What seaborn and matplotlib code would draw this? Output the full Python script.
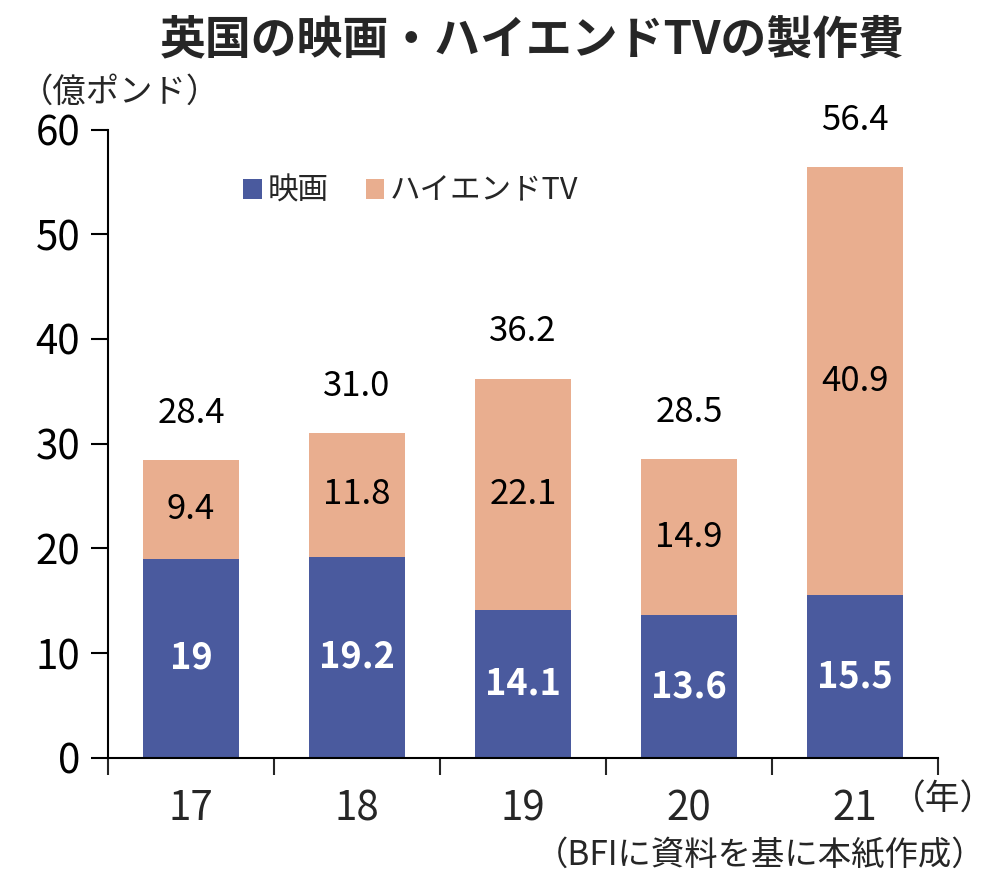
import matplotlib
matplotlib.use("Agg")
import matplotlib.pyplot as plt
import seaborn as sns
import pandas as pd

years = ["17", "18", "19", "20", "21"]
film = [19.0, 19.2, 14.1, 13.6, 15.5]
hetv = [9.4, 11.8, 22.1, 14.9, 40.9]
totals = [28.4, 31.0, 36.2, 28.5, 56.4]
film_labels = ["19", "19.2", "14.1", "13.6", "15.5"]

BLUE = "#4A5A9E"
PEACH = "#E9AE8F"

sns.set_theme(style="white")
plt.rcParams['font.family'] = ['Noto Sans CJK JP', 'DejaVu Sans']

df = pd.DataFrame({"year": years, "film": film, "hetv": hetv, "total": totals})

fig = plt.figure(figsize=(10, 8.75), dpi=100)
ax = fig.add_axes([0.108, 0.134, 0.83, 0.718])

# stacked bars: total (peach) underneath, film (blue) over it
sns.barplot(data=df, x="year", y="total", color=PEACH, width=0.58,
            saturation=1, linewidth=0, ax=ax, label="ハイエンドTV")
sns.barplot(data=df, x="year", y="film", color=BLUE, width=0.58,
            saturation=1, linewidth=0, ax=ax, label="映画")

for i in range(len(years)):
    ax.text(i, film[i] / 2, film_labels[i], ha="center", va="center",
            color="white", fontsize=26, fontweight="bold")
    ax.text(i, film[i] + hetv[i] / 2, f"{hetv[i]:.1f}", ha="center",
            va="center", color="black", fontsize=25)
    ax.text(i, totals[i] + 4.5, f"{totals[i]:.1f}", ha="center",
            va="center", color="black", fontsize=25)

ax.set_xlim(-0.5, 4.5)
ax.set_ylim(0, 60)
ax.set_yticks(range(0, 61, 10))
ax.tick_params(axis="y", labelsize=29, length=12, width=1.5, direction="out",
               left=True, colors="black", pad=8)
ax.tick_params(axis="x", which="major", labelsize=29, length=0, pad=22)
ax.set_xticks([-0.5, 0.5, 1.5, 2.5, 3.5, 4.5], minor=True)
ax.tick_params(axis="x", which="minor", length=12, width=1.5, direction="out",
               bottom=True)
ax.set_xlabel("")
ax.set_ylabel("")

for s in ["top", "right"]:
    ax.spines[s].set_visible(False)
for s in ["left", "bottom"]:
    ax.spines[s].set_color("black")
    ax.spines[s].set_linewidth(1.5)

handles, labels = ax.get_legend_handles_labels()
order = [labels.index("映画"), labels.index("ハイエンドTV")]
ax.legend([handles[k] for k in order], [labels[k] for k in order],
          loc="upper left", bbox_to_anchor=(0.13, 0.97), ncol=2, frameon=False,
          fontsize=22, handlelength=0.6, handleheight=0.6, handletextpad=0.2,
          columnspacing=1.2)

fig.text(0.532, 0.98, "英国の映画・ハイエンドTVの製作費", ha="center", va="top",
         fontsize=33, fontweight="bold")
fig.text(0.02, 0.895, "（億ポンド）", ha="left", va="center", fontsize=24)
fig.text(0.995, 0.085, "（年）", ha="right", va="center", fontsize=25)
fig.text(0.985, 0.022, "（BFIに資料を基に本紙作成）", ha="right", va="center",
         fontsize=24)

fig.savefig("out.png", dpi=100)
